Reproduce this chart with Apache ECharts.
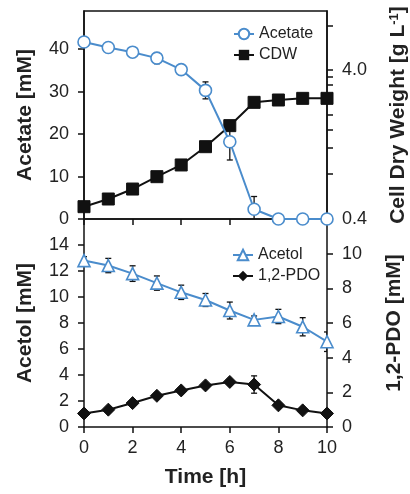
<!DOCTYPE html>
<html>
<head>
<meta charset="utf-8">
<script src="https://cdn.jsdelivr.net/npm/echarts@6/dist/echarts.min.js"></script>
<style>
html,body{margin:0;padding:0;background:#fff;}
#chart{width:410px;height:494px;}
</style>
</head>
<body>
<div id="chart"></div>
<script>
// ---- data ----
const timeH = [0, 1, 2, 3, 4, 5, 6, 7, 8, 9, 10];
const acetate = [41.7, 40.4, 39.3, 37.9, 35.2, 30.3, 18.2, 2.3, 0, 0, 0];
const acetateErr = [0.5, 0.6, 0.8, 1.3, 0.9, 2.0, 4.3, 3.0, 0, 0, 0];
const cdw = [0.484, 0.545, 0.636, 0.770, 0.923, 1.225, 1.696, 2.433, 2.522, 2.588, 2.588];
const acetol = [12.8, 12.42, 11.8, 11.07, 10.36, 9.77, 8.96, 8.24, 8.5, 7.71, 6.56];
const acetolErr = [0.3, 0.55, 0.6, 0.55, 0.55, 0.5, 0.65, 0.3, 0.55, 0.7, 0.75];
const pdo = [0.78, 1.0, 1.38, 1.8, 2.11, 2.4, 2.6, 2.45, 1.25, 0.96, 0.78];
const pdoErr = [0.1, 0.1, 0.1, 0.1, 0.1, 0.1, 0.1, 0.5, 0.1, 0.1, 0.1];
const acetateTicks = [0, 10, 20, 30, 40];
const cdwTicks = [0.4, 0.8, 1.2, 1.6, 2.0, 2.4, 2.8, 3.2, 3.6, 4.0, 8.0];
const cdwLabels = [0.4, 4.0];
const acetolTicks = [0, 2, 4, 6, 8, 10, 12, 14];
const pdoTicks = [0, 2, 4, 6, 8, 10];
const timeTicks = [0, 2, 4, 6, 8, 10];

const BLUE = '#4a8ccc';
const FONT = '"Liberation Sans", Arial, sans-serif';
const TXT = '#222';

function errData(vals, errs) {
  return timeH.map((t, i) => [t, vals[i] - errs[i], vals[i] + errs[i]]);
}
function errRender(params, api) {
  const x = api.value(0), lo = api.value(1), hi = api.value(2);
  if (hi - lo <= 0) return null;
  const p1 = api.coord([x, lo]), p2 = api.coord([x, hi]);
  const w = 3;
  const style = { stroke: '#111', lineWidth: 1.3, fill: null };
  return {
    type: 'group', children: [
      { type: 'line', shape: { x1: p1[0], y1: p1[1], x2: p2[0], y2: p2[1] }, style },
      { type: 'line', shape: { x1: p1[0] - w, y1: p1[1], x2: p1[0] + w, y2: p1[1] }, style },
      { type: 'line', shape: { x1: p2[0] - w, y1: p2[1], x2: p2[0] + w, y2: p2[1] }, style }
    ]
  };
}
const axisLine = { show: true, lineStyle: { color: '#111', width: 1.5 } };
const tickStyle = { color: '#111', width: 1.5 };
const labelStyle = { color: TXT, fontSize: 18, fontFamily: FONT };
const nameStyle = { color: TXT, fontSize: 21, fontWeight: 'bold', fontFamily: FONT };

const chart = echarts.init(document.getElementById('chart'), null, { renderer: 'canvas' });
const option = {
  animation: false,
  backgroundColor: '#fff',
  grid: [
    { left: 84, top: 11, width: 243, height: 208, show: true, borderColor: '#111', borderWidth: 1.5,
      backgroundColor: 'transparent', outerBoundsMode: 'none', containLabel: false },
    { left: 84, top: 219, width: 243, height: 208, outerBoundsMode: 'none', containLabel: false }
  ],
  legend: [
    {
      orient: 'vertical', left: 228, top: 21, itemWidth: 20, itemHeight: 13, itemGap: 5,
      textStyle: { color: TXT, fontSize: 16, fontFamily: FONT },
      data: ['Acetate', 'CDW']
    },
    {
      orient: 'vertical', left: 227, top: 242, itemWidth: 20, itemHeight: 13, itemGap: 5,
      textStyle: { color: TXT, fontSize: 16, fontFamily: FONT },
      data: ['Acetol', '1,2-PDO']
    }
  ],
  xAxis: [
    {
      gridIndex: 0, type: 'value', min: 0, max: 10, interval: 2,
      axisLine, axisTick: { show: true, length: 6, lineStyle: tickStyle },
      axisLabel: { show: false }, splitLine: { show: false }
    },
    {
      gridIndex: 1, type: 'value', min: 0, max: 10, interval: 2,
      axisLine, axisTick: { show: true, length: 6, lineStyle: tickStyle },
      axisLabel: Object.assign({ margin: 12, customValues: timeTicks }, labelStyle),
      splitLine: { show: false },
      name: 'Time [h]', nameLocation: 'middle', nameGap: 40, nameTextStyle: nameStyle
    }
  ],
  yAxis: [
    {
      gridIndex: 0, type: 'value', min: 0, max: 49, position: 'left',
      axisLine, axisTick: { show: true, length: 6, lineStyle: tickStyle, customValues: acetateTicks },
      axisLabel: Object.assign({ margin: 15, customValues: acetateTicks }, labelStyle),
      splitLine: { show: false },
      name: 'Acetate [mM]', nameLocation: 'middle', nameRotate: 90, nameGap: 48, nameTextStyle: nameStyle
    },
    {
      gridIndex: 0, type: 'log', logBase: 10, min: 0.4, max: 10, position: 'right',
      axisLine, axisTick: { show: false }, axisLabel: { show: false }, splitLine: { show: false },
      name: '{a|Cell Dry Weight [g L}{s|-1}{a|]}', nameLocation: 'middle', nameRotate: 90, nameGap: 61,
      nameTextStyle: {
        rich: {
          a: nameStyle,
          s: { color: TXT, fontSize: 13, fontWeight: 'bold', fontFamily: FONT, verticalAlign: 'top', padding: [0, 0, 8, 0] }
        }
      }
    },
    {
      gridIndex: 1, type: 'value', min: 0, max: 16, position: 'left',
      axisLine, axisTick: { show: true, length: 6, lineStyle: tickStyle, customValues: acetolTicks },
      axisLabel: Object.assign({ margin: 15, customValues: acetolTicks }, labelStyle),
      splitLine: { show: false },
      name: 'Acetol [mM]', nameLocation: 'middle', nameRotate: 90, nameGap: 48, nameTextStyle: nameStyle
    },
    {
      gridIndex: 1, type: 'value', min: 0, max: 12, position: 'right',
      axisLine, axisTick: { show: true, length: 6, lineStyle: tickStyle, customValues: pdoTicks },
      axisLabel: Object.assign({ margin: 15, customValues: pdoTicks }, labelStyle),
      splitLine: { show: false },
      name: '1,2-PDO [mM]', nameLocation: 'middle', nameRotate: 90, nameGap: 57, nameTextStyle: nameStyle
    },
    {
      // tick/label helper for the logarithmic CDW axis (log10 space)
      gridIndex: 0, type: 'value', min: Math.log10(0.4), max: 1, position: 'right',
      axisLine: { show: false },
      axisTick: { show: true, length: 6, lineStyle: tickStyle, customValues: cdwTicks.map(v => Math.log10(v)) },
      axisLabel: Object.assign({ margin: 15, customValues: cdwLabels.map(v => Math.log10(v)),
        formatter: v => Math.pow(10, v).toFixed(1) }, labelStyle),
      splitLine: { show: false }
    }
  ],
  series: [
    {
      type: 'custom', name: 'acetolErr', xAxisIndex: 1, yAxisIndex: 2, renderItem: errRender,
      data: errData(acetol, acetolErr), clip: true, z: 1, silent: true
    },
    {
      type: 'custom', name: 'pdoErr', xAxisIndex: 1, yAxisIndex: 3, renderItem: errRender,
      data: errData(pdo, pdoErr), clip: true, z: 1, silent: true
    },
    {
      type: 'custom', name: 'acetateErr', xAxisIndex: 0, yAxisIndex: 0, renderItem: errRender,
      data: errData(acetate, acetateErr), clip: true, z: 1, silent: true
    },
    {
      name: 'CDW', type: 'line', xAxisIndex: 0, yAxisIndex: 1,
      data: timeH.map((t, i) => [t, cdw[i]]),
      symbol: 'rect', symbolSize: 12, showAllSymbol: true,
      lineStyle: { color: '#111', width: 2 }, itemStyle: { color: '#111', borderColor: '#111' }, z: 3
    },
    {
      name: 'Acetate', type: 'line', xAxisIndex: 0, yAxisIndex: 0,
      data: timeH.map((t, i) => [t, acetate[i]]),
      symbol: 'circle', symbolSize: 12, showAllSymbol: true, clip: false,
      lineStyle: { color: BLUE, width: 2 }, itemStyle: { color: '#fff', borderColor: BLUE, borderWidth: 1.6 }, z: 4
    },
    {
      name: 'Acetol', type: 'line', xAxisIndex: 1, yAxisIndex: 2,
      data: timeH.map((t, i) => [t, acetol[i]]),
      symbol: 'triangle', symbolSize: 12, showAllSymbol: true,
      lineStyle: { color: BLUE, width: 2 }, itemStyle: { color: '#fff', borderColor: BLUE, borderWidth: 1.6 }, z: 4
    },
    {
      name: '1,2-PDO', type: 'line', xAxisIndex: 1, yAxisIndex: 3,
      data: timeH.map((t, i) => [t, pdo[i]]),
      symbol: 'diamond', symbolSize: 13, showAllSymbol: true, clip: false,
      lineStyle: { color: '#111', width: 2 }, itemStyle: { color: '#111', borderColor: '#111' }, z: 3
    }
  ]
};
chart.setOption(option);
</script>
</body>
</html>
